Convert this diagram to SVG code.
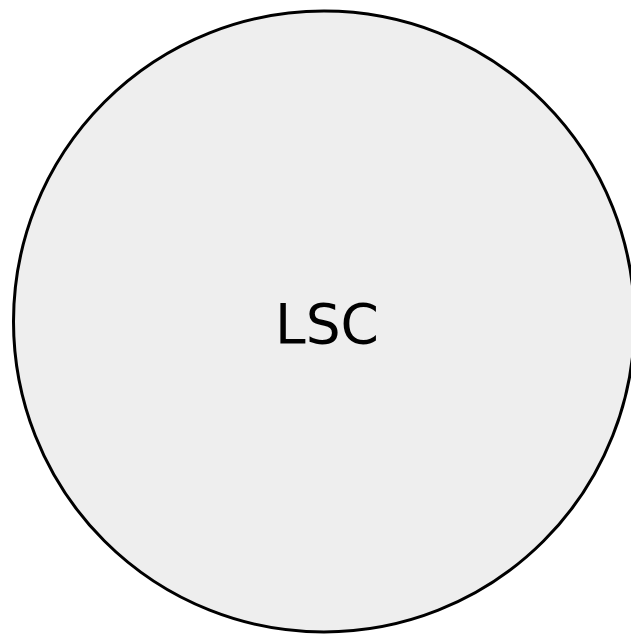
<svg xmlns="http://www.w3.org/2000/svg" width="631" height="635" viewBox="0 0 631 635">
<style>
.node{fill:#eeeeee;stroke:#000000;stroke-width:3}
.label{font-family:"DejaVu Sans",sans-serif;font-size:55px;fill:#000000;text-anchor:middle}
</style>
<rect width="631" height="635" fill="#ffffff"/>
<g id="LSC">
<circle class="node" cx="324" cy="321.5" r="310.5"/>
<text class="label" x="327" y="343">LSC</text>
</g>
<g id="connectors"/>
</svg>
